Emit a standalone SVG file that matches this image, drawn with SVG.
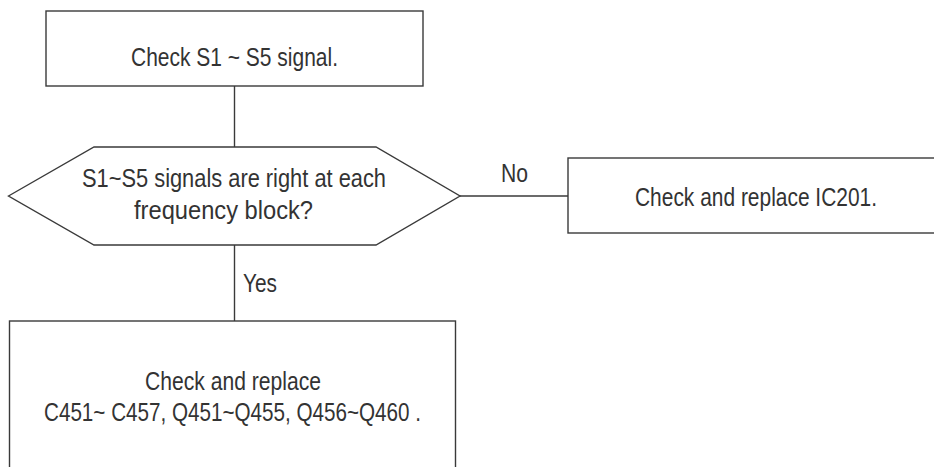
<svg xmlns="http://www.w3.org/2000/svg" width="934" height="467" viewBox="0 0 934 467">
<style>
.box{fill:#fff;stroke:#3a3a3a;stroke-width:1.4}
.ln{fill:none;stroke:#3a3a3a;stroke-width:1.4}
text{font-family:"Liberation Sans",Arial,sans-serif;font-size:26px;fill:#333}
</style>
<rect width="934" height="467" fill="#fff"/>
<g id="connectors">
<line class="ln" x1="234.5" y1="86" x2="234.5" y2="147"/>
<line class="ln" x1="460" y1="196" x2="568" y2="196"/>
<line class="ln" x1="234.5" y1="245" x2="234.5" y2="321"/>
<text x="501" y="182" textLength="27" lengthAdjust="spacingAndGlyphs">No</text>
<text x="243" y="292" textLength="34" lengthAdjust="spacingAndGlyphs">Yes</text>
</g>
<g id="n1">
<rect class="box" x="46" y="11" width="377" height="75"/>
<text x="131" y="66" textLength="207" lengthAdjust="spacingAndGlyphs">Check S1 ~ S5 signal.</text>
</g>
<g id="n2">
<polygon class="box" points="8.5,196 94,147 376,147 460,196 376,245 94,245"/>
<text x="82" y="187" textLength="304" lengthAdjust="spacingAndGlyphs">S1~S5 signals are right at each</text>
<text x="134" y="219" textLength="179" lengthAdjust="spacingAndGlyphs">frequency block?</text>
</g>
<g id="n3">
<rect class="box" x="568" y="158" width="380" height="75"/>
<text x="635" y="206" textLength="242" lengthAdjust="spacingAndGlyphs">Check and replace IC201.</text>
</g>
<g id="n4">
<rect class="box" x="9.5" y="321" width="446" height="160"/>
<text x="145" y="390" textLength="176" lengthAdjust="spacingAndGlyphs">Check and replace</text>
<text x="44" y="421" textLength="377" lengthAdjust="spacingAndGlyphs">C451~ C457, Q451~Q455, Q456~Q460 .</text>
</g>
</svg>
